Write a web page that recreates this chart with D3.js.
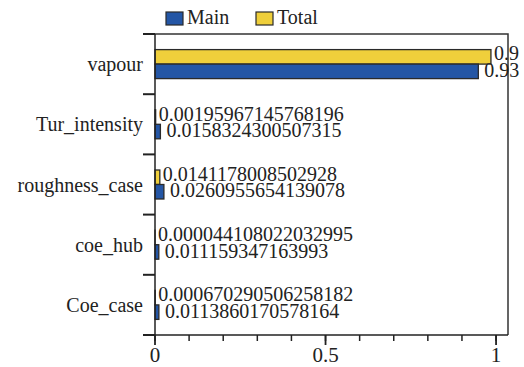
<!DOCTYPE html>
<html>
<head>
<meta charset="utf-8">
<script src="https://cdn.jsdelivr.net/npm/d3@7"></script>
<style>
  body { margin: 0; background: #fff; }
</style>
</head>
<body>
<div id="chart"></div>
<script>
// data
var categories = ["vapour", "Tur_intensity", "roughness_case", "coe_hub", "Coe_case"];
var seriesNames = ["Main", "Total"];
var mainValues = [0.948, 0.0158324300507315, 0.0260955654139078, 0.011159347163993, 0.0113860170578164];
var totalValues = [0.985, 0.00195967145768196, 0.0141178008502928, 0.000044108022032995, 0.000670290506258182];
var mainLabels = ["0.93", "0.0158324300507315", "0.0260955654139078", "0.011159347163993", "0.0113860170578164"];
var totalLabels = ["0.9", "0.00195967145768196", "0.0141178008502928", "0.000044108022032995", "0.000670290506258182"];
var xTickValues = [0, 0.5, 1];
var xTickLabels = ["0", "0.5", "1"];

var colors = { Main: "#2456a5", Total: "#efcf3b" };
var serif = "'Liberation Serif', 'DejaVu Serif', serif";

var width = 524, height = 367,
    margin = { top: 34, right: 16, bottom: 32, left: 155 };

var svg = d3.select("#chart")
   .append("svg")
   .attr("width", width)
   .attr("height", height)
   .attr("font-family", serif)
   .style("font-family", serif);

var g = svg.append("g")
   .attr("transform", "translate(" + margin.left + "," + margin.top + ")");

var w = width - margin.left - margin.right,
    h = height - margin.top - margin.bottom;

// x scale: 1 sits a bit before the right border
var x = d3.scaleLinear()
   .domain([0, 1.035])
   .range([0, w]);

var y = d3.scaleBand()
   .domain(categories)
   .range([0, h]);

var barH = 14.5;
var inner = d3.scaleBand()
   .domain(["Total", "Main"])
   .range([y.bandwidth() / 2 - barH, y.bandwidth() / 2 + barH]);

var rows = categories.map(function (c, i) {
   return [
      { cat: c, series: "Total", value: totalValues[i], label: totalLabels[i] },
      { cat: c, series: "Main", value: mainValues[i], label: mainLabels[i] }
   ];
});

// frame (top + right)
g.append("path")
   .attr("d", "M0,0H" + w + "V" + h)
   .attr("fill", "none")
   .attr("stroke", "#333")
   .attr("stroke-width", 1.5);

// bars
var grp = g.selectAll(".cat")
   .data(rows)
   .enter()
   .append("g")
   .attr("transform", function (d) { return "translate(0," + y(d[0].cat) + ")"; });

grp.selectAll("rect")
   .data(function (d) { return d; })
   .enter()
   .append("rect")
   .attr("x", x(0))
   .attr("y", function (d) { return inner(d.series); })
   .attr("width", function (d) { return x(d.value) - x(0); })
   .attr("height", inner.bandwidth())
   .attr("fill", function (d) { return colors[d.series]; })
   .attr("stroke", "#2a2a2a")
   .attr("stroke-width", 1.3);

// value labels (they sit tight against each other, like the original)
grp.selectAll("text")
   .data(function (d) { return d; })
   .enter()
   .append("text")
   .attr("x", function (d) { return x(d.value) + (d.series == "Main" ? 6 : 3); })
   .attr("y", function (d) { return inner(d.series) + inner.bandwidth() / 2; })
   .attr("dy", function (d) { return d.series == "Main" ? "0.28em" : "0.18em"; })
   .attr("fill", "#222")
   .style("font-size", "20px")
   .text(function (d) { return d.label; });

// y axis: ticks at band edges, labels centred in bands
var yAxis = g.append("g");
yAxis.append("line")
   .attr("x1", 0).attr("x2", 0)
   .attr("y1", 0).attr("y2", h)
   .attr("stroke", "#222").attr("stroke-width", 1.5);
yAxis.selectAll(".edge")
   .data(categories.concat(["_end"]))
   .enter()
   .append("line")
   .attr("x1", -12).attr("x2", 0)
   .attr("y1", function (d, i) { return i < categories.length ? y(d) : h; })
   .attr("y2", function (d, i) { return i < categories.length ? y(d) : h; })
   .attr("stroke", "#222").attr("stroke-width", 2);
yAxis.selectAll(".lab")
   .data(categories)
   .enter()
   .append("text")
   .attr("x", -12)
   .attr("y", function (d) { return y(d) + y.bandwidth() / 2; })
   .attr("dy", "0.35em")
   .attr("text-anchor", "end")
   .attr("fill", "#222")
   .style("font-size", "20px")
   .text(function (d) { return d; });

// x axis
var xAxis = g.append("g").attr("transform", "translate(0," + h + ")");
xAxis.append("line")
   .attr("x1", 0).attr("x2", w)
   .attr("stroke", "#222").attr("stroke-width", 1.5);
xAxis.selectAll(".minor")
   .data(d3.range(0, 11).map(function (i) { return i / 10; }))
   .enter()
   .append("line")
   .attr("x1", function (d) { return x(d); })
   .attr("x2", function (d) { return x(d); })
   .attr("y1", 0).attr("y2", 6)
   .attr("stroke", "#222").attr("stroke-width", 1.5);
xAxis.selectAll(".major")
   .data(xTickValues)
   .enter()
   .append("line")
   .attr("x1", function (d) { return x(d); })
   .attr("x2", function (d) { return x(d); })
   .attr("y1", 0).attr("y2", 10)
   .attr("stroke", "#222").attr("stroke-width", 1.8);
xAxis.selectAll(".tl")
   .data(xTickValues)
   .enter()
   .append("text")
   .attr("x", function (d) { return x(d); })
   .attr("y", 27)
   .attr("text-anchor", "middle")
   .attr("fill", "#222")
   .style("font-size", "21px")
   .text(function (d, i) { return xTickLabels[i]; });

// legend
var legend = svg.append("g").attr("transform", "translate(166,12)");
var legX = [0, 90];
var legItem = legend.selectAll("g")
   .data(seriesNames)
   .enter()
   .append("g")
   .attr("transform", function (d, i) { return "translate(" + legX[i] + ",0)"; });
legItem.append("rect")
   .attr("width", 17).attr("height", 13)
   .attr("fill", function (d) { return colors[d]; })
   .attr("stroke", "#2a2a2a").attr("stroke-width", 1.2);
legItem.append("text")
   .attr("x", 21).attr("y", 11.5)
   .attr("fill", "#222")
   .style("font-size", "20px")
   .text(function (d) { return d; });
</script>
</body>
</html>
